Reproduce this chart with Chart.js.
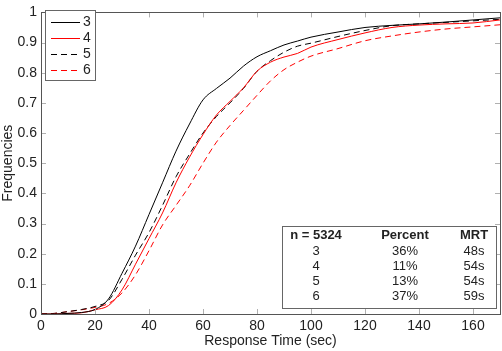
<!DOCTYPE html>
<html>
<head>
<meta charset="utf-8">
<script src="https://cdn.jsdelivr.net/npm/chart.js@4/dist/chart.umd.min.js"></script>
<style>
	html, body { margin: 0; padding: 0; background: #fff; }
	#wrap { width: 502px; height: 351px; }
</style>
</head>
<body>
<div id="wrap"><canvas id="canResponse"></canvas></div>
<script>
'use strict'

// x values (sec)
const TIMES = [0, 5, 10, 15, 20, 25, 30, 35, 40, 45, 50, 55, 60, 65, 70, 75, 80, 85, 90, 95, 100, 110, 120, 130, 140, 150, 160, 170];

// cumulative frequencies
const freq3 = [0, 0, 0.002, 0.005, 0.015, 0.05, 0.135, 0.225, 0.33, 0.435, 0.54, 0.63, 0.71, 0.748, 0.782, 0.822, 0.853, 0.873, 0.892, 0.905, 0.918, 0.935, 0.95, 0.957, 0.962, 0.968, 0.975, 0.982];
const freq4 = [0, 0, 0.002, 0.004, 0.014, 0.028, 0.08, 0.165, 0.25, 0.335, 0.435, 0.52, 0.595, 0.66, 0.705, 0.75, 0.805, 0.835, 0.852, 0.864, 0.885, 0.91, 0.932, 0.95, 0.958, 0.962, 0.965, 0.975];
const freq5 = [0, 0.002, 0.008, 0.015, 0.025, 0.045, 0.115, 0.195, 0.27, 0.36, 0.455, 0.53, 0.6, 0.655, 0.7, 0.748, 0.805, 0.84, 0.868, 0.888, 0.898, 0.92, 0.94, 0.956, 0.962, 0.967, 0.972, 0.977];
const freq6 = [0, 0.002, 0.008, 0.014, 0.022, 0.035, 0.07, 0.13, 0.21, 0.295, 0.36, 0.425, 0.5, 0.57, 0.625, 0.675, 0.725, 0.773, 0.81, 0.835, 0.855, 0.88, 0.906, 0.922, 0.935, 0.945, 0.952, 0.959];

const SERIES_LABELS = ['3', '4', '5', '6'];

// x tick labels stop at 160
const X_TICKS = [0, 20, 40, 60, 80, 100, 120, 140, 160];

// table in the lower right
const TABLE_HEAD = ['n = 5324', 'Percent', 'MRT'];
const TABLE_GROUP = ['3', '4', '5', '6'];
const TABLE_PERCENT = ['36%', '11%', '13%', '37%'];
const TABLE_MRT = ['48s', '54s', '54s', '59s'];

const FONT = '"Liberation Sans", Arial, Helvetica, sans-serif';

let toPoints = function (ys) {
	return TIMES.map((t, i) => ({ x: t, y: ys[i] }));
};

let mkSet = function (label, ys, color, dash) {
	return {
		label: label, data: toPoints(ys), borderColor: color, backgroundColor: color,
		borderWidth: 1, borderDash: dash, pointRadius: 0, cubicInterpolationMode: 'monotone', fill: false
	};
};

// box, inward ticks, legend and table
const matlabPlugin = {
	id: 'matlabPlugin',
	afterDraw: function (chart) {
		const ctx = chart.ctx;
		const a = chart.chartArea;
		const xs = chart.scales.x;
		const ys = chart.scales.y;
		ctx.save();

		// ticks
		ctx.strokeStyle = '#b0b0b0';
		ctx.lineWidth = 1;
		ctx.setLineDash([]);
		ctx.beginPath();
		xs.ticks.forEach((t) => {
			const px = Math.round(xs.getPixelForValue(t.value)) + 0.5;
			ctx.moveTo(px, a.bottom); ctx.lineTo(px, a.bottom - 5);
			ctx.moveTo(px, a.top); ctx.lineTo(px, a.top + 5);
		});
		ys.ticks.forEach((t) => {
			const py = Math.round(ys.getPixelForValue(t.value)) + 0.5;
			ctx.moveTo(a.left, py); ctx.lineTo(a.left + 5, py);
			ctx.moveTo(a.right, py); ctx.lineTo(a.right - 5, py);
		});
		ctx.stroke();

		// box
		ctx.strokeStyle = '#555';
		ctx.strokeRect(Math.round(a.left) + 0.5, Math.round(a.top) + 0.5, Math.round(a.right - a.left), Math.round(a.bottom - a.top));

		// legend
		ctx.fillStyle = '#fff';
		ctx.fillRect(45.5, 10.5, 50, 70);
		ctx.strokeStyle = '#666';
		ctx.strokeRect(45.5, 10.5, 50, 70);
		ctx.font = '14px ' + FONT;
		ctx.textBaseline = 'middle';
		ctx.textAlign = 'left';
		chart.data.datasets.forEach((ds, i) => {
			const y = Math.round(21.5 + i * 16.3) + 0.5;
			ctx.strokeStyle = ds.borderColor;
			ctx.setLineDash(ds.borderDash);
			ctx.beginPath();
			ctx.moveTo(51, y); ctx.lineTo(80, y);
			ctx.stroke();
			ctx.fillStyle = '#222';
			ctx.fillText(ds.label, 83, y);
		});
		ctx.setLineDash([]);

		// table
		ctx.fillStyle = '#fff';
		ctx.fillRect(282.5, 226.5, 214, 82);
		ctx.strokeStyle = '#666';
		ctx.strokeRect(282.5, 226.5, 214, 82);
		const cols = [316, 405, 474];
		ctx.textAlign = 'center';
		ctx.fillStyle = '#222';
		ctx.font = 'bold 13px ' + FONT;
		TABLE_HEAD.forEach((h, j) => ctx.fillText(h, cols[j], 235));
		ctx.font = '13px ' + FONT;
		TABLE_GROUP.forEach((g, i) => {
			const y = 251 + i * 15;
			ctx.fillText(g, cols[0], y);
			ctx.fillText(TABLE_PERCENT[i], cols[1], y);
			ctx.fillText(TABLE_MRT[i], cols[2], y);
		});

		ctx.restore();
	}
};

const ctxResp = document.getElementById('canResponse').getContext('2d');

let myChart = new Chart(ctxResp, {
	type: 'line',
	data: {
		datasets: [
			mkSet(SERIES_LABELS[0], freq3, '#000000', []),
			mkSet(SERIES_LABELS[1], freq4, '#ff0000', []),
			mkSet(SERIES_LABELS[2], freq5, '#000000', [6, 4]),
			mkSet(SERIES_LABELS[3], freq6, '#ff0000', [6, 4])
		]
	},
	options: {
		responsive: true,
		maintainAspectRatio: false,
		animation: false,
		layout: { padding: { top: 5, right: 2, left: 0, bottom: 0 } },
		plugins: { legend: { display: false }, tooltip: { enabled: false } },
		scales: {
			x: {
				type: 'linear', min: 0, max: 170,
				afterFit: function (s) { s.height = 37; },
				afterBuildTicks: function (s) { s.ticks = X_TICKS.map((v) => ({ value: v })); },
				ticks: { padding: 4, color: '#222', font: { family: FONT, size: 14 } },
				grid: { display: false, drawTicks: false },
				border: { display: false },
				title: { display: true, text: 'Response Time (sec)', color: '#222', font: { family: FONT, size: 14 }, padding: { top: 0, bottom: 1 } }
			},
			y: {
				type: 'linear', min: 0, max: 1,
				afterFit: function (s) { s.width = 41; },
				ticks: {
					stepSize: 0.1, padding: 4, color: '#222', font: { family: FONT, size: 14 },
					callback: (v) => String(Math.round(v * 10) / 10)
				},
				grid: { display: false, drawTicks: false },
				border: { display: false },
				title: { display: true, text: 'Frequencies', color: '#222', font: { family: FONT, size: 14 }, padding: { top: 0, bottom: 0 } }
			}
		}
	},
	plugins: [matlabPlugin]
});
</script>
</body>
</html>
